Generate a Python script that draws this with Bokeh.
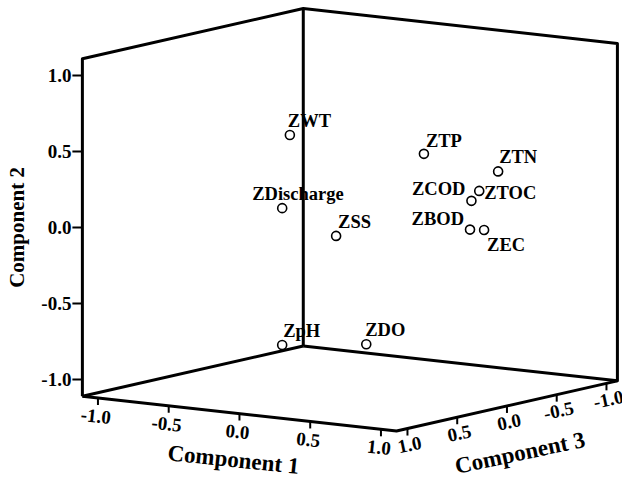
import numpy as np
from bokeh.plotting import figure
from bokeh.models import Range1d, ColumnDataSource
from bokeh.embed import file_html
from bokeh.resources import INLINE
from bokeh.core.properties import value

# ---------------- data ----------------
variables = ["ZWT", "ZDischarge", "ZSS", "ZTP", "ZTN", "ZTOC", "ZCOD", "ZBOD", "ZEC", "ZpH", "ZDO"]
component1 = [-0.15, 0.07, 0.43, 0.72, 0.90, 0.90, 0.88, 0.87, 0.85, -0.12, 0.20]
component2 = [0.60, 0.20, 0.05, 0.55, 0.38, 0.28, 0.22, 0.03, 0.00, -0.76, -0.78]
component3 = [0.39, 0.78, 0.75, 0.28, -0.21, -0.02, 0.03, 0.03, -0.14, 0.51, 0.12]
tick_values = [-1.0, -0.5, 0.0, 0.5, 1.0]
tick_labels = ["-1.0", "-0.5", "0.0", "0.5", "1.0"]
axis_titles = ["Component 1", "Component 2", "Component 3"]

# ---------------- styles / layout ----------------
LIM = 1.11                     # half-size of the cube in data units
FONT = value("Liberation Serif")
# label offsets (screen px dx, dy) and alignment per variable
label_dx = [-2, -30, 2, 2, 1, 5, -6, -6, 3, 1, -1]
label_dy = [-14, -14, -14, -13, -14, 2, -12, -11, 15, -14, -14]
label_align = ["left", "left", "left", "left", "left", "left", "right", "right", "left", "left", "left"]


def project(c1, c2, c3):
    """Oblique 3-D view used by the chart: returns plot coords (y up)."""
    c1 = np.asarray(c1, dtype=float)
    c2 = np.asarray(c2, dtype=float)
    c3 = np.asarray(c3, dtype=float)
    sx = 349.4 + 141.5 * c1 - 99.5 * c3
    sy = 219.3 + 15.7 * c1 - 152.0 * c2 + 22.6 * c3
    return sx, -sy


p = figure(width=622, height=478, output_backend="svg", toolbar_location=None,
           x_axis_type=None, y_axis_type=None,
           x_range=Range1d(0, 622), y_range=Range1d(-478, 0),
           min_border=0, outline_line_color=None)
p.min_border_left = p.min_border_right = p.min_border_top = p.min_border_bottom = 0
p.background_fill_color = "white"
p.border_fill_color = "white"

m = LIM
corner = {
    "lb": project(-m, -m, m), "lt": project(-m, m, m),
    "bb": project(-m, -m, -m), "bt": project(-m, m, -m),
    "rb": project(m, -m, -m), "rt": project(m, m, -m),
    "fb": project(m, -m, m),
}
outer = ["lb", "lt", "bt", "rt", "rb", "fb", "lb"]
xs_outer = [float(corner[k][0]) for k in outer]
ys_outer = [float(corner[k][1]) for k in outer]
p.line(xs_outer, ys_outer, line_color="black", line_width=3, line_join="round")
for a, b in [("bt", "bb"), ("bb", "lb"), ("bb", "rb")]:
    p.line([float(corner[a][0]), float(corner[b][0])], [float(corner[a][1]), float(corner[b][1])],
           line_color="black", line_width=3, line_join="round")

tv = np.array(tick_values)
n = len(tv)
TICK_FS = "19px"

# Component 2 (vertical) ticks on left edge
tx, ty = project(np.full(n, -m), tv, np.full(n, m))
p.multi_line([[float(x), float(x) - 10] for x in tx], [[float(y), float(y)] for y in ty],
             line_color="black", line_width=2)
p.text(x=tx - 11, y=ty, text=tick_labels, text_font=FONT, text_font_style="bold",
       text_font_size=TICK_FS, text_align="right", text_baseline="middle", text_color="black")

# Component 1 ticks along front-left bottom edge
tx1, ty1 = project(tv, np.full(n, -m), np.full(n, m))
p.multi_line([[float(x), float(x)] for x in tx1], [[float(y), float(y) - 7] for y in ty1],
             line_color="black", line_width=2)
p.text(x=tx1 - 2, y=ty1 - 18, text=tick_labels, text_font=FONT, text_font_style="bold",
       text_font_size=TICK_FS, text_align="center", text_baseline="middle",
       angle=np.deg2rad(-6), text_color="black")

# Component 3 ticks along front-right bottom edge
tx3, ty3 = project(np.full(n, m), np.full(n, -m), tv)
p.multi_line([[float(x), float(x)] for x in tx3], [[float(y), float(y) - 7] for y in ty3],
             line_color="black", line_width=2)
p.text(x=tx3 + 2, y=ty3 - 16, text=tick_labels, text_font=FONT, text_font_style="bold",
       text_font_size=TICK_FS, text_align="center", text_baseline="middle",
       angle=np.deg2rad(12), text_color="black")

# axis titles
t1x, t1y = project(0.0, -m, m)
p.text(x=[float(t1x) - 6], y=[float(t1y) - 46], text=[axis_titles[0]], text_font=FONT,
       text_font_style="bold", text_font_size="23px", text_align="center",
       text_baseline="middle", angle=np.deg2rad(-6), text_color="black")
t2x, t2y = project(-m, 0.0, m)
p.text(x=[float(t2x) - 65], y=[float(t2y)], text=[axis_titles[1]], text_font=FONT,
       text_font_style="bold", text_font_size="21px", text_align="center",
       text_baseline="middle", angle=np.deg2rad(90), text_color="black")
t3x, t3y = project(m, -m, 0.0)
p.text(x=[float(t3x) + 13], y=[float(t3y) - 47], text=[axis_titles[2]], text_font=FONT,
       text_font_style="bold", text_font_size="23px", text_align="center",
       text_baseline="middle", angle=np.deg2rad(12), text_color="black")

# points
px, py = project(component1, component2, component3)
src = ColumnDataSource(dict(x=px, y=py, name=variables,
                            lx=px + np.array(label_dx), ly=py - np.array(label_dy),
                            align=label_align))
p.scatter("x", "y", source=src, marker="circle", size=9, fill_color="white",
          line_color="black", line_width=1.6)
p.text(x="lx", y="ly", text="name", source=src, text_font=FONT, text_font_style="bold",
       text_font_size="18.5px", text_align="align", text_baseline="alphabetic",
       text_color="black")

open("out.html", "w").write(file_html(p, INLINE))
